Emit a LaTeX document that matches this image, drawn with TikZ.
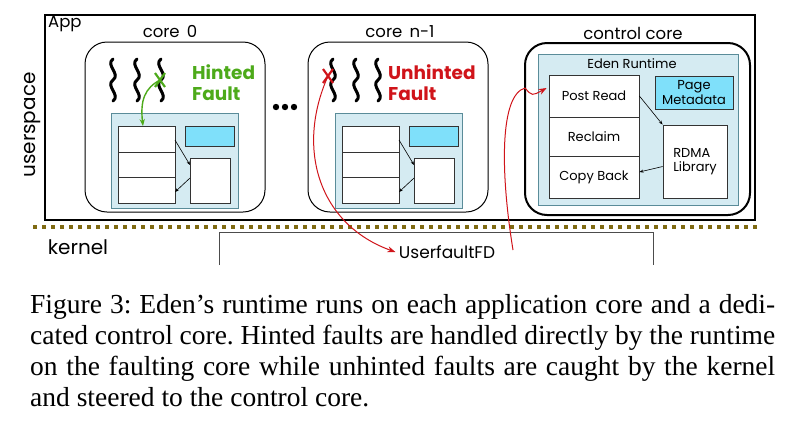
\documentclass[tikz,border=0pt]{standalone}
\usepackage{fontspec}
\setmainfont{Liberation Serif}
\newfontfamily\dfont{Poppins}
\usetikzlibrary{arrows.meta}
\definecolor{panel}{HTML}{D5EBF2}
\definecolor{panelb}{HTML}{5A8C99}
\definecolor{meta}{HTML}{7FE0FA}
\definecolor{olive}{HTML}{7F6A12}
\definecolor{hgreen}{HTML}{4DAA1A}
\definecolor{ured}{HTML}{D0141A}
\tikzset{
 lbl/.style={font=\dfont\fontsize{16.5}{18}\selectfont},
 core/.style={draw, rounded corners=22pt, line width=1pt},
 pnl/.style={draw=panelb, fill=panel, line width=0.8pt},
 cell/.style={draw=black!80, fill=white, line width=0.8pt},
 mbox/.style={draw=black!80, fill=meta, line width=0.8pt},
 sq/.style={line width=3pt, line cap=round},
 small/.style={-{Stealth[length=4pt]}, line width=0.6pt},
 inl/.style={font=\dfont\fontsize{13}{14}\selectfont},
 flt/.style={font=\dfont\bfseries\fontsize{18.5}{21}\selectfont, align=left, anchor=west, inner sep=0pt},
 captext/.style={anchor=base west, font=\frenchspacing\fontsize{27.5}{30}\selectfont, inner sep=0pt}
}
\newcommand{\squig}[2]{\draw[sq] (#1,#2) .. controls (#1-8,#2+6) and (#1+8,#2+15) .. (#1,#2+21) .. controls (#1-8,#2+27) and (#1+8,#2+36) .. (#1,#2+42);}
\newcommand{\xmark}[3]{\draw[#1, line width=2.2pt] (#2-5,#3-7) -- (#2+5,#3+7) (#2+5,#3-7) -- (#2-5,#3+7);}
\newcommand{\innerpanel}[2]{%
 \draw[pnl] (#1,#2) rectangle (#1+127,#2+95);
 \draw[cell] (#1+7,#2+13) rectangle (#1+64,#2+39);
 \draw[cell] (#1+7,#2+39) rectangle (#1+64,#2+64);
 \draw[cell] (#1+7,#2+64) rectangle (#1+64,#2+90);
 \draw[mbox] (#1+74,#2+13) rectangle (#1+123,#2+33);
 \draw[cell] (#1+79,#2+45) rectangle (#1+119,#2+90);
 \draw[small] (#1+64,#2+27) -- (#1+79,#2+52);
 \draw[small] (#1+79,#2+65) -- (#1+64,#2+79);}
\begin{document}
\begin{tikzpicture}[x=1pt,y=-1pt]
\useasboundingbox (0,0) rectangle (800,432);
% app
\draw[line width=1.4pt] (45,15) rectangle (755,220);
\node[lbl, anchor=north west, inner sep=1pt] (applbl) at (47,15) {App};
\node[lbl, rotate=90, font=\dfont\fontsize{20}{22}\selectfont] (us) at (33,125) {userspace};
\draw[olive, line width=4pt, dash pattern=on 4pt off 5pt] (33,227) -- (757,227);
\node[lbl, font=\dfont\fontsize{20}{22}\selectfont] (kern) at (78,247) {kernel};
\draw[black!70, line width=0.8pt] (219,265) -- (219,232) -- (653,232) -- (653,265);
\node[lbl, font=\dfont\fontsize{17}{18}\selectfont] (ufd) at (447,252) {UserfaultFD};
% core 0
\draw[core] (85,42) rectangle (265,212);
\node[lbl] (c0) at (170,32) {core\,\ 0};
\squig{113}{59}\squig{137}{59}\squig{161}{59}
\node[hgreen, flt] (hf) at (192,83) {Hinted\\Fault};
\innerpanel{111}{113}
\coordinate (gx) at (160,80);
\xmark{hgreen}{160}{80}
\draw[hgreen, line width=1.4pt, -{Stealth[length=7pt]}] (gx) .. controls (145,88) and (140,100) .. (143,126);
% dots
\foreach \x in {276,285,294}{\fill (\x,107) circle (3.2pt);}
% core n-1
\draw[core] (308,42) rectangle (488,212);
\node[lbl] (cn) at (400,32) {core\,\ n-1};
\squig{333}{59}\squig{356}{59}\squig{378}{59}
\node[ured, flt] (uf) at (388,83) {Unhinted\\Fault};
\innerpanel{335}{113}
\coordinate (rx) at (328,76);
\xmark{ured}{328}{76}
\draw[ured, line width=1pt, -{Stealth[length=8pt]}] (rx) .. controls (295,150) and (320,225) .. (ufd.west);
% control core
\draw[core, line width=2pt] (525,43) rectangle (750,215);
\node[lbl] (cc) at (633,33) {control core};
\draw[pnl] (538,54) rectangle (738,205);
\node[inl] (er) at (632,64) {Eden Runtime};
\node[cell, inl, minimum width=90pt, minimum height=42pt] (pr) at (594,96) {Post Read};
\node[cell, inl, minimum width=90pt, minimum height=39pt] (rc) at (594,136.5) {Reclaim};
\node[cell, inl, minimum width=90pt, minimum height=42pt] (cb) at (594,177) {Copy Back};
\node[mbox, inl, minimum width=78pt, minimum height=33pt, inner sep=0, align=center, font=\dfont\fontsize{13}{13}\selectfont] (pm) at (694,92.5) {Page\\Metadata};
\node[cell, inl, minimum width=64pt, minimum height=73pt, inner sep=0, align=left] (rd) at (695,161.5) {RDMA\\Library};
\draw[small] (pr.east) -- (rd.north west);
\draw[small] ([yshift=-5pt]rd.west) -- ([yshift=5pt]cb.east);
\coordinate (fdend) at (513,250);
\draw[ured, line width=1pt, -{Stealth[length=8pt]}] (fdend) .. controls (500,170) and (500,95) .. (525,88) .. controls (532,96) .. ([xshift=-2pt,yshift=8pt]pr.west);
% caption
\node[captext] (l1) at (30,313) {\makebox[745pt][s]{Figure 3: Eden’s runtime runs on each application core and a dedi-}};
\node[captext] (l2) at (30,344) {\makebox[745pt][s]{cated control core. Hinted faults are handled directly by the runtime}};
\node[captext] (l3) at (30,375) {\makebox[745pt][s]{on the faulting core while unhinted faults are caught by the kernel}};
\node[captext] (l4) at (30,406) {and steered to the control core.};
\end{tikzpicture}
\end{document}
